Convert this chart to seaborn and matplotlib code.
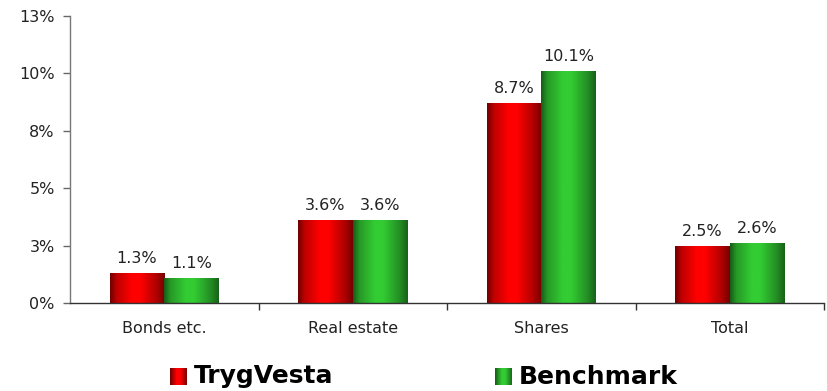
import numpy as np
import pandas as pd
import matplotlib
matplotlib.use("Agg")
import matplotlib.pyplot as plt
from matplotlib.colors import LinearSegmentedColormap
import seaborn as sns

categories = ["Bonds etc.", "Real estate", "Shares", "Total"]
trygvesta = [1.3, 3.6, 8.7, 2.5]
benchmark = [1.1, 3.6, 10.1, 2.6]
series_names = ["TrygVesta", "Benchmark"]
ytick_values = [0, 2.5, 5, 7.5, 10, 12.5]
ytick_labels = ["0%", "3%", "5%", "8%", "10%", "13%"]

df = pd.DataFrame({
    "category": categories * 2,
    "value": trygvesta + benchmark,
    "series": [series_names[0]] * 4 + [series_names[1]] * 4,
})

sns.set_theme(style="white")
plt.rcParams["font.family"] = ["DejaVu Sans"]

fig = plt.figure(figsize=(8.28, 3.91), dpi=100)
ax = fig.add_axes([70 / 828, 1 - 303 / 391, 754 / 828, 287 / 391])

palette = {"TrygVesta": "#ff0000", "Benchmark": "#33cc33"}
sns.barplot(data=df, x="category", y="value", hue="series", palette=palette,
            width=0.58, gap=0, ax=ax, legend=False, saturation=1)

# cylindrical shading: dark edges, bright band left of centre
pos = np.linspace(0, 1, 200)
prof = np.interp(pos, [0, 0.12, 0.4, 0.55, 0.85, 1.0], [0.0, 0.55, 1.0, 1.0, 0.45, 0.05])
cmaps = {
    "TrygVesta": LinearSegmentedColormap.from_list("r", ["#6e0000", "#ff0000"]),
    "Benchmark": LinearSegmentedColormap.from_list("g", ["#175c17", "#33cc33"]),
}
grad = prof[np.newaxis, :]

for cont, name in zip(ax.containers, series_names):
    for patch in cont.patches:
        x0, y0 = patch.get_x(), patch.get_y()
        w, h = patch.get_width(), patch.get_height()
        im = ax.imshow(grad, cmap=cmaps[name], aspect="auto",
                       extent=[x0, x0 + w, y0, y0 + h], zorder=patch.get_zorder() + 0.1,
                       interpolation="bilinear")
        im.set_clip_path(patch)
    ax.bar_label(cont, labels=[f"{v:.1f}%" for v in cont.datavalues], padding=5,
                 fontsize=11.5, color="#222222")

ax.set_xlim(-0.5, 3.5)
ax.set_ylim(0, 12.5)
ax.set_yticks(ytick_values)
ax.set_yticklabels(ytick_labels, fontsize=11.5, color="#222222")
ax.set_xticks(np.arange(4))
ax.set_xticklabels(categories, fontsize=11.5, color="#222222")
ax.tick_params(axis="x", length=0, pad=13)
ax.tick_params(axis="y", length=5, width=1, color="#666666", direction="out", left=True, pad=6)
# category boundary ticks below the axis
ax.set_xticks(np.arange(0.5, 4.0, 1.0), minor=True)
ax.tick_params(axis="x", which="minor", length=5, width=1, color="#333333", direction="out", bottom=True)
ax.set_xlabel("")
ax.set_ylabel("")
for s in ["top", "right"]:
    ax.spines[s].set_visible(False)
ax.spines["left"].set_color("#777777")
ax.spines["bottom"].set_color("#333333")
ax.spines["left"].set_linewidth(1)
ax.spines["bottom"].set_linewidth(1)

# legend row with shaded swatches
legend_items = [(170, series_names[0]), (495, series_names[1])]
sq = np.linspace(0, 1, 50)
sq_prof = np.interp(sq, [0, 0.4, 0.6, 1.0], [0.1, 1.0, 1.0, 0.2])[np.newaxis, :]
for x_px, name in legend_items:
    lax = fig.add_axes([x_px / 828, 1 - 385 / 391, 17 / 828, 17 / 391])
    lax.imshow(sq_prof, cmap=cmaps[name], aspect="auto", interpolation="bilinear")
    lax.axis("off")
    fig.text((x_px + 24) / 828, 1 - 376.5 / 391, name, fontsize=18, fontweight="bold",
             va="center", ha="left", color="#000000")

fig.savefig("out.png", dpi=100)
